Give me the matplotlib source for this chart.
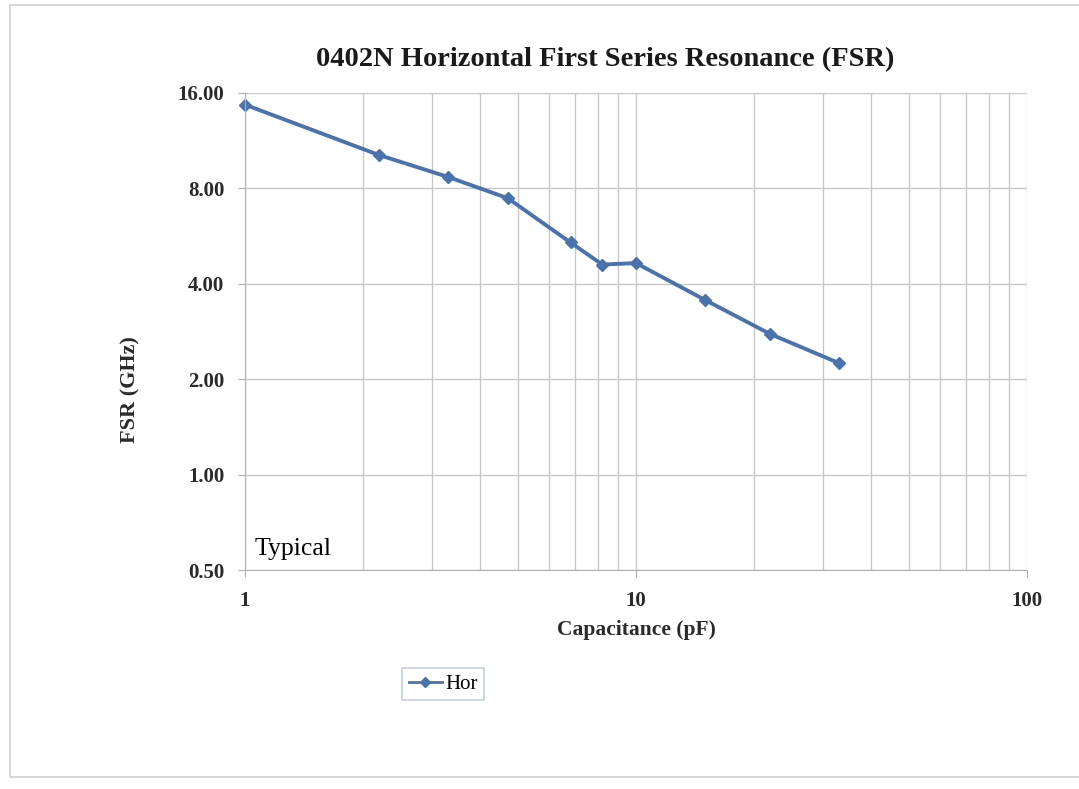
import matplotlib
matplotlib.use("Agg")
import matplotlib.pyplot as plt
from matplotlib.ticker import FixedLocator, NullFormatter, FuncFormatter
from matplotlib.patches import Rectangle

capacitance_pF = [1.0, 2.2, 3.3, 4.7, 6.8, 8.2, 10.0, 15.0, 22.0, 33.0]
fsr_GHz = [14.7, 10.2, 8.7, 7.45, 5.4, 4.6, 4.65, 3.56, 2.78, 2.25]
y_ticks = [0.5, 1, 2, 4, 8, 16]
x_ticks = [1, 10, 100]
series_name = "Hor"

plt.rcParams['font.family'] = ['Liberation Serif', 'DejaVu Serif']

fig = plt.figure(figsize=(10.79, 7.89), dpi=100)
fig.patches.append(Rectangle((10/1079, 1-777/789), 1.2, (777-5)/789, transform=fig.transFigure,
                             fill=False, edgecolor='#d0d0d0', linewidth=1.2))

ax = fig.add_axes([245/1079, 1-570/789, (1027-245)/1079, (570-93)/789])
ax.set_xscale('log')
ax.set_yscale('log', base=2)
ax.set_xlim(1, 100)
ax.set_ylim(0.5, 16)

ax.xaxis.set_major_locator(FixedLocator(x_ticks))
minors = [m * d for d in (1, 10) for m in range(2, 10)]
ax.xaxis.set_minor_locator(FixedLocator(minors))
ax.xaxis.set_minor_formatter(NullFormatter())
ax.xaxis.set_major_formatter(FuncFormatter(lambda v, p: f"{v:g}"))
ax.yaxis.set_major_locator(FixedLocator(y_ticks))
ax.yaxis.set_minor_locator(FixedLocator([]))
ax.yaxis.set_major_formatter(FuncFormatter(lambda v, p: f"{v:.2f}"))

ax.grid(True, which='both', axis='x', color='#c8c8c8', linewidth=1.0)
ax.grid(True, which='major', axis='y', color='#c8c8c8', linewidth=1.0)
ax.set_axisbelow(True)
for s in ['top', 'right']:
    ax.spines[s].set_visible(False)
for s in ['left', 'bottom']:
    ax.spines[s].set_color('#b0b0b0')
ax.tick_params(axis='both', which='major', length=5, color='#b0b0b0', labelsize=15)
ax.tick_params(axis='x', which='major', pad=10)
ax.tick_params(axis='y', which='major', pad=10)
ax.tick_params(axis='x', which='minor', length=0)
for lab in ax.get_xticklabels() + ax.get_yticklabels():
    lab.set_fontweight('bold')
    lab.set_color('#2a2a2a')

line, = ax.plot(capacitance_pF, fsr_GHz, color='#4a72ad', linewidth=2.8, marker='D',
                markersize=6, label=series_name, clip_on=False)

ax.text(255/1079, 1-549/789, "Typical", transform=fig.transFigure, fontsize=18.5, color='black',
        va='center', ha='left')

fig.text(605/1079, 1-60/789, "0402N Horizontal First Series Resonance (FSR)", ha='center', va='center',
         fontsize=20.5, fontweight='bold', color='#1a1a1a')
fig.text(636/1079, 1-630/789, "Capacitance (pF)", ha='center', va='center',
         fontsize=15.5, fontweight='bold', color='#2a2a2a')
fig.text(130/1079, 1-390/789, "FSR (GHz)", ha='center', va='center', rotation=90,
         fontsize=16, fontweight='bold', color='#2a2a2a')

leg = fig.legend(handles=[line], loc='center', bbox_to_anchor=(443/1079, 1-684/789),
                 fontsize=15, frameon=True, fancybox=False, edgecolor='#b8c4d4',
                 handlelength=1.6, handletextpad=0.15, borderpad=0.3, markerscale=0.8)
leg.get_frame().set_linewidth(1.2)
for h in leg.legend_handles:
    h.set_linewidth(2.0)

fig.savefig("out.png", dpi=100)
